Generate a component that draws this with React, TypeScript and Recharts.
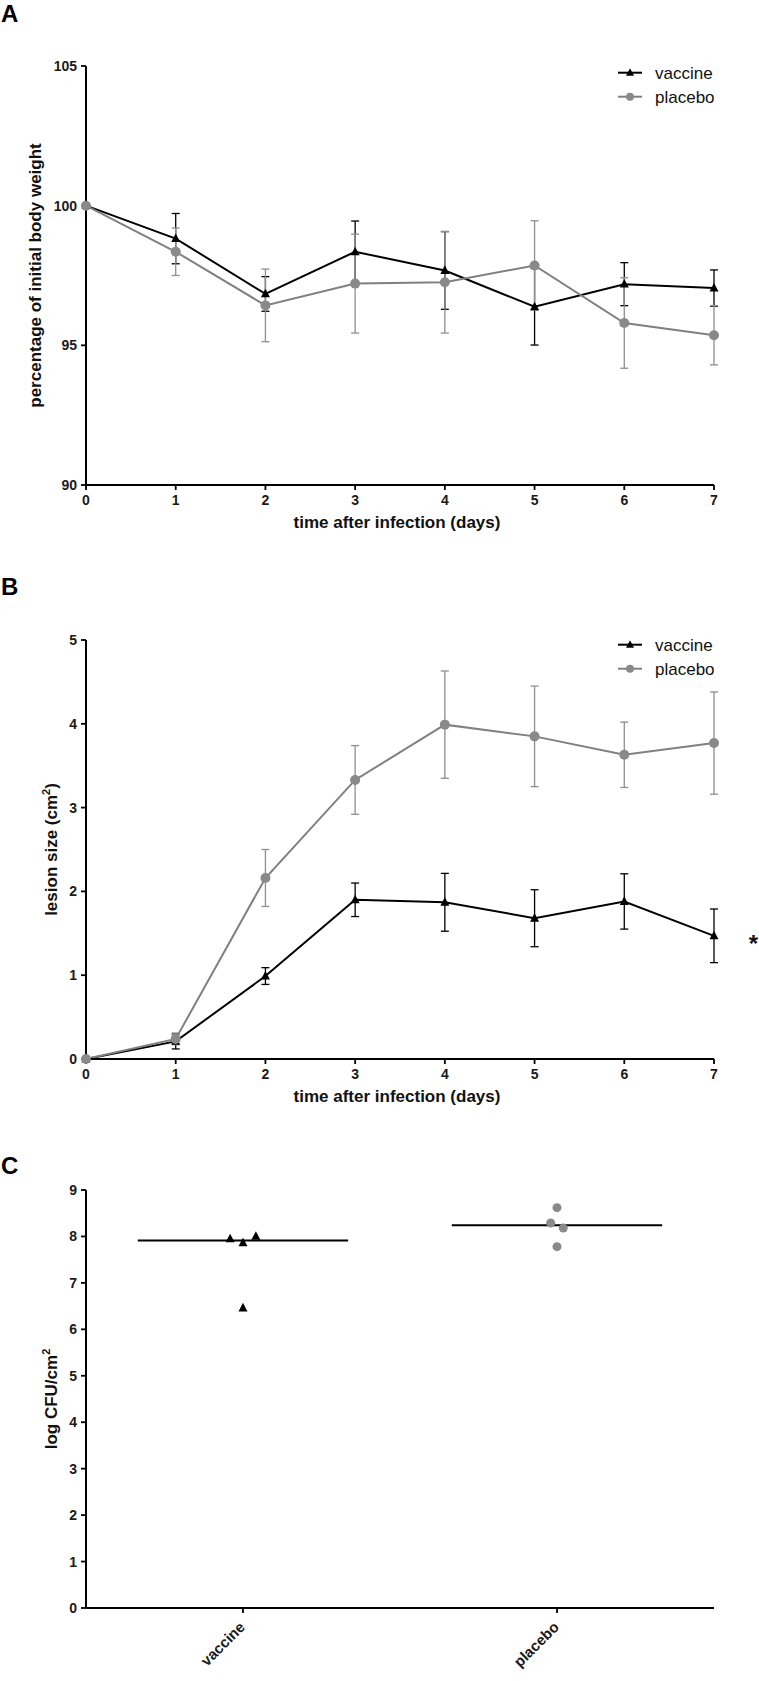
import React from 'react';
import {
  ErrorBar,
  LabelList,
  Legend,
  Line,
  LineChart,
  ReferenceLine,
  Scatter,
  ScatterChart,
  XAxis,
  YAxis,
} from 'recharts';

const FONT = 'Arial, "Liberation Sans", Helvetica, sans-serif';
const BLACK = '#000000';
const GREY_LINE = '#808080';
const GREY_DOT = '#898989';
const GREY_BAR = '#8e8e8e';

// days after infection
const DAYS = [0, 1, 2, 3, 4, 5, 6, 7];

// A: percentage of initial body weight (mean, sem)
const WEIGHT_VACCINE = [100, 98.82, 96.84, 98.35, 97.68, 96.38, 97.19, 97.05];
const WEIGHT_VACCINE_SEM = [0, 0.9, 0.62, 1.1, 1.39, 1.37, 0.77, 0.65];
const WEIGHT_PLACEBO = [100, 98.35, 96.43, 97.21, 97.26, 97.86, 95.8, 95.36];
const WEIGHT_PLACEBO_SEM = [0, 0.85, 1.3, 1.77, 1.82, 1.6, 1.62, 1.06];
const WEIGHT_TICKS = [90, 95, 100, 105];

// B: lesion size in cm2 (mean, sem)
const LESION_VACCINE = [0, 0.21, 0.99, 1.9, 1.87, 1.68, 1.88, 1.47];
const LESION_VACCINE_SEM = [0, 0.09, 0.1, 0.2, 0.345, 0.34, 0.33, 0.32];
const LESION_PLACEBO = [0, 0.24, 2.16, 3.33, 3.99, 3.85, 3.63, 3.77];
const LESION_PLACEBO_SEM = [0, 0.07, 0.34, 0.41, 0.64, 0.6, 0.39, 0.61];
const LESION_TICKS = [0, 1, 2, 3, 4, 5];

// C: log CFU/cm2 per animal, group position on a 0..2 axis (with jitter)
const GROUPS = ['vaccine', 'placebo'];
const GROUP_POS = [0.5, 1.5];
const CFU_VACCINE = [7.95, 7.86, 8.0, 6.46];
const CFU_VACCINE_X = [0.459, 0.5, 0.541, 0.5];
const CFU_PLACEBO = [8.62, 8.29, 8.18, 7.78];
const CFU_PLACEBO_X = [1.5, 1.48, 1.52, 1.5];
const CFU_MEDIAN = [7.91, 8.24];
const MEDIAN_HALF = 0.335;
const CFU_TICKS = [0, 1, 2, 3, 4, 5, 6, 7, 8, 9];

const weightRows = DAYS.map((day, i) => ({
  day,
  vaccine: WEIGHT_VACCINE[i],
  vaccineErr: WEIGHT_VACCINE_SEM[i],
  placebo: WEIGHT_PLACEBO[i],
  placeboErr: WEIGHT_PLACEBO_SEM[i],
}));

const lesionRows = DAYS.map((day, i) => ({
  day,
  vaccine: LESION_VACCINE[i],
  vaccineErr: LESION_VACCINE_SEM[i],
  placebo: LESION_PLACEBO[i],
  placeboErr: LESION_PLACEBO_SEM[i],
}));

const vaccinePoints = CFU_VACCINE.map((y, i) => ({ x: CFU_VACCINE_X[i], y }));
const placeboPoints = CFU_PLACEBO.map((y, i) => ({ x: CFU_PLACEBO_X[i], y }));

const axisLine = { stroke: BLACK, strokeWidth: 2 };
const tickLine = { stroke: BLACK, strokeWidth: 1.8 };
const tickStyle = { fill: '#1a1a1a', fontSize: 14, fontWeight: 700, fontFamily: FONT };
const titleStyle = { fill: '#111', fontSize: 17, fontWeight: 700, fontFamily: FONT };

function triPath(cx: number, cy: number, size: number) {
  const h = size * 0.95;
  return `M${cx},${cy - h * 0.6} L${cx + size / 2},${cy + h * 0.4} L${cx - size / 2},${cy + h * 0.4} Z`;
}

const triangleDot = (props: any) => (
  <path key={`tri-${props.index}`} d={triPath(props.cx, props.cy, 9)} fill={BLACK} />
);
const circleDot = (props: any) => (
  <circle key={`cir-${props.index}`} cx={props.cx} cy={props.cy} r={5} fill={GREY_DOT} />
);

const yTitle = (content: React.ReactNode, dx: number) => (props: any) => {
  const { x, y, height } = props.viewBox;
  const cx = x + dx;
  const cy = y + height / 2;
  return (
    <text x={cx} y={cy} transform={`rotate(-90 ${cx} ${cy})`} textAnchor="middle" style={titleStyle}>
      {content}
    </text>
  );
};

const xTitle = (props: any) => {
  const { x, y, width } = props.viewBox;
  return (
    <text x={x + width / 2 - 3} y={y + 43} textAnchor="middle" style={titleStyle}>
      time after infection (days)
    </text>
  );
};

const cm2 = (prefix: string, suffix: string) => (
  <>
    <tspan>{prefix}</tspan>
    <tspan dy={-7} fontSize={11}>2</tspan>
    <tspan dy={7}>{suffix}</tspan>
  </>
);

function SeriesLegend() {
  const rows = [
    { name: 'vaccine', color: BLACK, shape: 'tri' },
    { name: 'placebo', color: GREY_LINE, shape: 'dot' },
  ];
  return (
    <svg width={150} height={50}>
      {rows.map((r, i) => {
        const y = 13.7 + i * 24;
        return (
          <g key={r.name}>
            <line x1={12} x2={36} y1={y} y2={y} stroke={r.color} strokeWidth={2} />
            {r.shape === 'tri' ? (
              <path d={triPath(24, y, 8)} fill={BLACK} />
            ) : (
              <circle cx={24} cy={y} r={4} fill={GREY_DOT} />
            )}
            <text x={49} y={y + 6} fontSize={17} fontFamily={FONT} fill="#111">
              {r.name}
            </text>
          </g>
        );
      })}
    </svg>
  );
}

const star = (props: any) => {
  if (props.index !== DAYS.length - 1) return null;
  return (
    <text
      key="star"
      x={props.x + 39.5}
      y={props.y + 16}
      textAnchor="middle"
      fontSize={24}
      fontWeight={700}
      fontFamily={FONT}
      fill="#111"
    >
      *
    </text>
  );
};

const groupTick = (props: any) => {
  const idx = GROUP_POS.indexOf(props.payload.value);
  const x = props.x + 3;
  const y = props.y + 13;
  return (
    <text
      x={x}
      y={y}
      textAnchor="end"
      transform={`rotate(-45 ${x} ${y})`}
      style={{ ...tickStyle, fontSize: 15 }}
    >
      {GROUPS[idx]}
    </text>
  );
};

const triShape = (props: any) => <path d={triPath(props.cx, props.cy, 9)} fill={BLACK} />;
const dotShape = (props: any) => <circle cx={props.cx} cy={props.cy} r={4.5} fill={GREY_DOT} />;

const panelLabel = (top: number): React.CSSProperties => ({
  position: 'absolute',
  left: 1,
  top,
  fontFamily: FONT,
  fontWeight: 700,
  fontSize: 24,
  lineHeight: '24px',
  color: '#000',
});

function TimeCourse({
  rows,
  domain,
  ticks,
  yLabel,
  yLabelDx,
  marginTop,
  marginBottom,
  legendTop,
  withStar,
}: any) {
  return (
    <LineChart
      width={759}
      height={550}
      data={rows}
      margin={{ top: marginTop, right: 45, bottom: marginBottom, left: 26 }}
    >
      <XAxis
        type="number"
        dataKey="day"
        domain={[0, 7]}
        ticks={DAYS}
        interval={0}
        height={30}
        tickSize={5}
        tickMargin={5}
        axisLine={axisLine}
        tickLine={tickLine}
        tick={tickStyle}
        label={xTitle}
      />
      <YAxis
        type="number"
        domain={domain}
        ticks={ticks}
        interval={0}
        width={60}
        tickSize={5}
        tickMargin={4}
        axisLine={axisLine}
        tickLine={tickLine}
        tick={tickStyle}
        label={yTitle(yLabel, yLabelDx)}
      />
      <Legend
        layout="vertical"
        align="center"
        verticalAlign="middle"
        wrapperStyle={{ left: 606, top: legendTop, width: 150, height: 50 }}
        content={() => <SeriesLegend />}
      />
      <Line
        type="linear"
        dataKey="vaccine"
        name="vaccine"
        stroke={BLACK}
        strokeWidth={2}
        dot={triangleDot}
        activeDot={false}
        isAnimationActive={false}
      >
        <ErrorBar dataKey="vaccineErr" direction="y" width={4} stroke={BLACK} strokeWidth={1.3} />
        {withStar ? <LabelList dataKey="vaccine" content={star} /> : null}
      </Line>
      <Line
        type="linear"
        dataKey="placebo"
        name="placebo"
        stroke={GREY_LINE}
        strokeWidth={2}
        dot={circleDot}
        activeDot={false}
        isAnimationActive={false}
      >
        <ErrorBar dataKey="placeboErr" direction="y" width={4} stroke={GREY_BAR} strokeWidth={1.3} />
      </Line>
    </LineChart>
  );
}

export default function App() {
  return (
    <div
      style={{
        position: 'absolute',
        left: 0,
        top: 0,
        width: 759,
        height: 1681,
        background: '#fff',
        overflow: 'hidden',
      }}
    >
      <div style={panelLabel(2)}>A</div>
      <div style={panelLabel(575)}>B</div>
      <div style={panelLabel(1154)}>C</div>

      <div style={{ position: 'absolute', left: 0, top: 0 }}>
        <TimeCourse
          rows={weightRows}
          domain={[90, 105]}
          ticks={WEIGHT_TICKS}
          yLabel="percentage of initial body weight"
          yLabelDx={15}
          marginTop={66}
          marginBottom={35}
          legendTop={59}
        />
      </div>

      <div style={{ position: 'absolute', left: 0, top: 560 }}>
        <TimeCourse
          rows={lesionRows}
          domain={[0, 5]}
          ticks={LESION_TICKS}
          yLabel={cm2('lesion size (cm', ')')}
          yLabelDx={31}
          marginTop={80}
          marginBottom={21}
          legendTop={71}
          withStar
        />
      </div>

      <div style={{ position: 'absolute', left: 0, top: 1140 }}>
        <ScatterChart width={759} height={541} margin={{ top: 50, right: 45, bottom: 8, left: 26 }}>
          <XAxis
            type="number"
            dataKey="x"
            domain={[0, 2]}
            ticks={GROUP_POS}
            interval={0}
            height={65}
            tickSize={5}
            tickMargin={2}
            axisLine={axisLine}
            tickLine={tickLine}
            tick={groupTick}
          />
          <YAxis
            type="number"
            dataKey="y"
            domain={[0, 9]}
            ticks={CFU_TICKS}
            interval={0}
            width={60}
            tickSize={5}
            tickMargin={4}
            axisLine={axisLine}
            tickLine={tickLine}
            tick={tickStyle}
            label={yTitle(cm2('log CFU/cm', ''), 31)}
          />
          {GROUP_POS.map((pos, i) => (
            <ReferenceLine
              key={GROUPS[i]}
              segment={[
                { x: pos - MEDIAN_HALF, y: CFU_MEDIAN[i] },
                { x: pos + MEDIAN_HALF, y: CFU_MEDIAN[i] },
              ]}
              stroke={BLACK}
              strokeWidth={2}
              ifOverflow="visible"
            />
          ))}
          <Scatter name="vaccine" data={vaccinePoints} shape={triShape} isAnimationActive={false} />
          <Scatter name="placebo" data={placeboPoints} shape={dotShape} isAnimationActive={false} />
        </ScatterChart>
      </div>
    </div>
  );
}
